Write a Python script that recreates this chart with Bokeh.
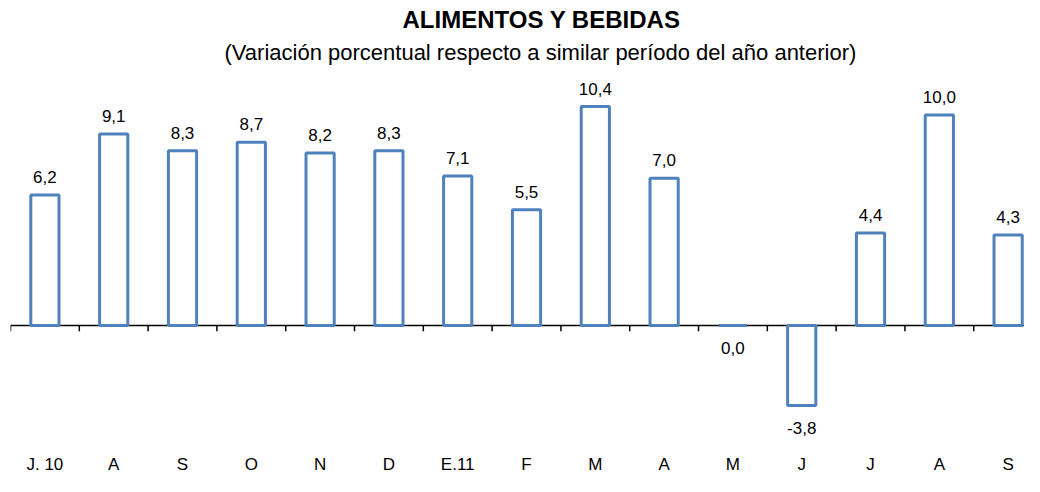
from bokeh.plotting import figure
from bokeh.models import Range1d, Span, FixedTicker, Title, ColumnDataSource
from bokeh.embed import file_html
from bokeh.resources import INLINE
from bokeh.core.properties import value

categories = ["J. 10", "A", "S", "O", "N", "D", "E.11", "F", "M", "A", "M", "J", "J", "A", "S"]
values = [6.2, 9.1, 8.3, 8.7, 8.2, 8.3, 7.1, 5.5, 10.4, 7.0, 0.0, -3.8, 4.4, 10.0, 4.3]
labels = ["6,2", "9,1", "8,3", "8,7", "8,2", "8,3", "7,1", "5,5", "10,4", "7,0", "0,0", "-3,8", "4,4", "10,0", "4,3"]

FONT = "Liberation Sans"
BLUE = "#4F81BD"

xs = list(range(len(values)))

p = figure(width=1024, height=476, output_backend="svg", toolbar_location=None,
           x_range=Range1d(-0.5, 14.238), y_range=Range1d(-5.65, 12.16),
           title="ALIMENTOS Y BEBIDAS",
           min_border_left=10, min_border_right=0, min_border_bottom=28, min_border_top=0)

p.title.text_font = FONT
p.title.text_font_size = "24px"
p.title.text_font_style = "bold"
p.title.align = "left"
p.title.offset = 392
p.title.text_color = "black"
p.title.standoff = 0
try:
    p.title.padding = dict(top=3, bottom=0, left=0, right=0)
except Exception:
    pass

sub = Title(text="(Variación porcentual respecto a similar período del año anterior)",
            text_font=FONT, text_font_size="22px", text_font_style="normal",
            align="left", offset=214, text_color="black", standoff=10)
p.add_layout(sub, "above")

p.grid.visible = False
p.outline_line_color = None
p.yaxis.visible = False

p.xaxis.ticker = FixedTicker(ticks=xs)
p.xaxis.major_label_overrides = {i: c for i, c in zip(xs, categories)}
p.xaxis.axis_line_color = None
p.xaxis.major_tick_line_color = None
p.xaxis.minor_tick_line_color = None
p.xaxis.major_label_standoff = 4
p.xaxis.major_label_text_font = FONT
p.xaxis.major_label_text_font_size = "17px"
p.xaxis.major_label_text_color = "black"

zero = Span(location=0, dimension="width", line_color="black", line_width=1.5, level="underlay")
p.add_layout(zero)

bounds = [i - 0.5 for i in range(len(values) + 1)]
p.segment(x0=bounds, y0=[0] * len(bounds), x1=bounds, y1=[-0.27] * len(bounds),
          line_color="black", line_width=1.5)

p.vbar(x=xs, top=values, bottom=0, width=0.41, fill_color="white",
       line_color=BLUE, line_width=3)

pos = ColumnDataSource(dict(x=[x for x, v in zip(xs, values) if v > 0],
                            y=[v for v in values if v > 0],
                            t=[l for l, v in zip(labels, values) if v > 0]))
neg = ColumnDataSource(dict(x=[x for x, v in zip(xs, values) if v <= 0],
                            y=[v for v in values if v <= 0],
                            t=[l for l, v in zip(labels, values) if v <= 0]))
p.text(x="x", y="y", text="t", source=pos, text_align="center", text_baseline="middle",
       y_offset=-18, text_font=value(FONT), text_font_size="17px", text_color="black")
p.text(x="x", y="y", text="t", source=neg, text_align="center", text_baseline="middle",
       y_offset=22, text_font=value(FONT), text_font_size="17px", text_color="black")

open("out.html", "w").write(file_html(p, INLINE))
